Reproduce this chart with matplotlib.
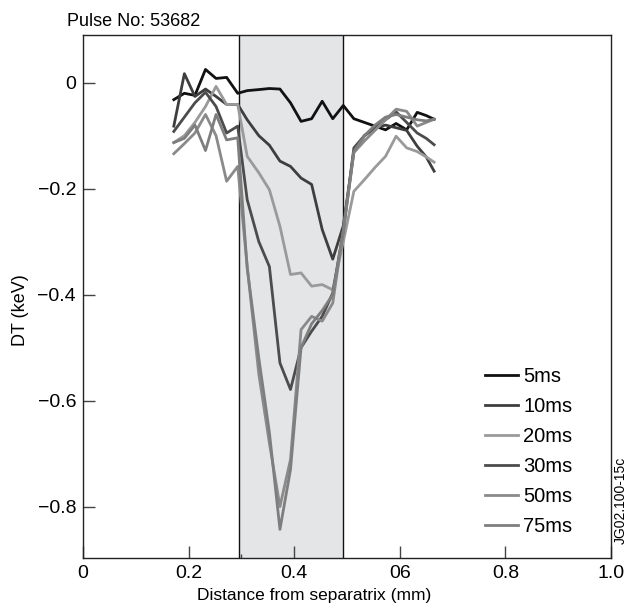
import matplotlib
matplotlib.use("Agg")
import matplotlib.pyplot as plt
from matplotlib.ticker import FixedLocator

plt.rcParams['font.family'] = ['Liberation Sans', 'DejaVu Sans']

# ---- data ----
x_mm = [0.172, 0.192, 0.212, 0.232, 0.252, 0.272, 0.293, 0.311, 0.333, 0.353,
        0.373, 0.393, 0.413, 0.433, 0.453, 0.473, 0.493, 0.513, 0.533, 0.553,
        0.573, 0.593, 0.613, 0.633, 0.650, 0.665]

dt_5ms = [-0.032, -0.020, -0.024, 0.025, 0.008, 0.010, -0.020, -0.015, -0.013, -0.011,
          -0.012, -0.038, -0.073, -0.068, -0.035, -0.068, -0.043, -0.068, -0.075, -0.082,
          -0.089, -0.077, -0.089, -0.056, -0.062, -0.069]
dt_10ms = [-0.082, 0.017, -0.026, -0.012, -0.026, -0.041, -0.041, -0.070, -0.100, -0.118,
           -0.148, -0.158, -0.180, -0.192, -0.277, -0.333, -0.270, -0.130, -0.100, -0.085,
           -0.080, -0.085, -0.090, -0.120, -0.140, -0.167]
dt_20ms = [-0.113, -0.100, -0.075, -0.045, -0.007, -0.041, -0.041, -0.139, -0.170, -0.202,
           -0.271, -0.362, -0.359, -0.384, -0.381, -0.391, -0.300, -0.205, -0.183, -0.160,
           -0.139, -0.101, -0.123, -0.130, -0.140, -0.150]
dt_30ms = [-0.092, -0.065, -0.038, -0.018, -0.045, -0.095, -0.082, -0.221, -0.300, -0.347,
           -0.529, -0.579, -0.500, -0.469, -0.441, -0.397, -0.280, -0.123, -0.100, -0.085,
           -0.070, -0.055, -0.075, -0.095, -0.105, -0.117]
dt_50ms = [-0.134, -0.115, -0.095, -0.060, -0.100, -0.186, -0.158, -0.347, -0.550, -0.680,
           -0.800, -0.711, -0.466, -0.441, -0.450, -0.416, -0.280, -0.132, -0.110, -0.090,
           -0.070, -0.050, -0.054, -0.082, -0.075, -0.069]
dt_75ms = [-0.113, -0.105, -0.080, -0.128, -0.060, -0.108, -0.104, -0.350, -0.520, -0.660,
           -0.843, -0.730, -0.500, -0.455, -0.430, -0.400, -0.280, -0.130, -0.100, -0.080,
           -0.065, -0.060, -0.065, -0.070, -0.072, -0.069]

series_labels = ['5ms', '10ms', '20ms', '30ms', '50ms', '75ms']
series_values = [dt_5ms, dt_10ms, dt_20ms, dt_30ms, dt_50ms, dt_75ms]
series_colors = ['#111111', '#3e3e3e', '#9a9a9a', '#4c4c4c', '#8a8a8a', '#7e7e7e']

x_ticks = [0, 0.2, 0.4, 0.6, 0.8, 1.0]
x_tick_labels = ['0', '0.2', '0.4', '06', '0.8', '1.0']
y_ticks = [0, -0.2, -0.4, -0.6, -0.8]
y_tick_labels = ['0', '\u22120.2', '\u22120.4', '\u22120.6', '\u22120.8']
shade_range = (0.295, 0.492)

# ---- figure ----
fig = plt.figure(figsize=(6.29, 6.11), dpi=100)
ax = fig.add_axes([83/629, 1-558/611, (611-83)/629, (558-35)/611])

ax.axvspan(shade_range[0], shade_range[1], color='#e4e5e7', zorder=0, lw=0)
ax.axvline(shade_range[0], color='#111111', lw=1.0, zorder=1)
ax.axvline(shade_range[1], color='#111111', lw=1.0, zorder=1)

handles = []
for lab, vals, col in zip(series_labels, series_values, series_colors):
    h, = ax.plot(x_mm, vals, color=col, lw=2.0, label=lab, zorder=3)
    handles.append(h)

ax.set_xlim(0, 1.0)
ax.set_ylim(-0.897, 0.09)
ax.set_xticks(x_ticks)
ax.set_xticklabels(x_tick_labels)
ax.set_yticks(y_ticks)
ax.set_yticklabels(y_tick_labels)
ax.xaxis.set_minor_locator(FixedLocator([0.3]))
ax.tick_params(axis='both', which='major', direction='in', length=8.5, width=1.0,
               labelsize=14, color='#444444', pad=5)
ax.tick_params(axis='x', which='minor', direction='in', length=3, width=1.0, color='#444444')
for s in ax.spines.values():
    s.set_linewidth(1.0)
    s.set_color('#222222')

ax.set_xlabel('Distance from separatrix (mm)', fontsize=12.5, labelpad=2)
ax.xaxis.set_label_coords((314-83)/528, -0.057)
ax.set_ylabel('DT (keV)', fontsize=13, labelpad=4)
ax.yaxis.set_label_coords(-0.102, (558-310)/523)

fig.text(67/629, 1-26/611, 'Pulse No: 53682', fontsize=13, ha='left', va='baseline')
fig.text(621/629, 1-500/611, 'JG02.100-15c', fontsize=10, rotation=90, ha='center', va='center')

ax.legend(handles=handles, loc='upper left', bbox_to_anchor=((485-83)/528, (558-367)/523),
          frameon=False, fontsize=14.5, borderpad=0, borderaxespad=0,
          handlelength=1.65, handletextpad=0.25, labelspacing=0.55)

fig.savefig('out.png', dpi=100)
